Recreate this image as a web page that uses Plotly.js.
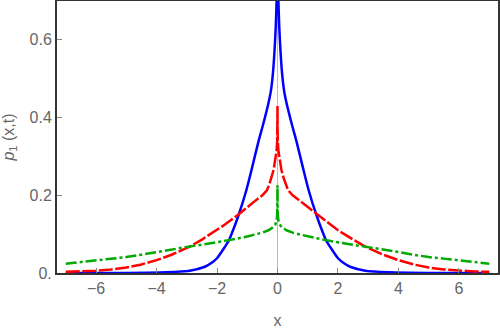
<!DOCTYPE html>
<html>
<head>
<meta charset="utf-8">
<script src="https://cdn.plot.ly/plotly-3.0.1.min.js"></script>
<style>
html, body { margin: 0; padding: 0; background: #fff; }
#myGraph { width: 500px; height: 329px; }
</style>
</head>
<body>
<div id="myGraph"></div>
<script>
// values
let blueX = [-7.0, -5.0, -3.7, -2.9, -2.4, -2.2, -2.0, -1.75, -1.6, -1.45, -1.3, -1.03, -0.85, -0.63, -0.5, -0.4, -0.3, -0.22, -0.15, -0.1, -0.06, -0.03, 0,
             0.03, 0.06, 0.1, 0.15, 0.22, 0.3, 0.4, 0.5, 0.63, 0.85, 1.03, 1.3, 1.45, 1.6, 1.75, 2.0, 2.2, 2.4, 2.9, 3.7, 5.0, 7.0];
let blueY = [0, 0.0003, 0.002, 0.006, 0.016, 0.025, 0.038, 0.066, 0.085, 0.114, 0.146, 0.213, 0.268, 0.338, 0.375, 0.405, 0.437, 0.468, 0.515, 0.57, 0.63, 0.70, 0.95,
             0.70, 0.63, 0.57, 0.515, 0.468, 0.437, 0.405, 0.375, 0.338, 0.268, 0.213, 0.146, 0.114, 0.085, 0.066, 0.038, 0.025, 0.016, 0.006, 0.002, 0.0003, 0];

let redX = [-7.0, -6.5, -6.0, -5.5, -5.0, -4.5, -4.0, -3.5, -2.9, -2.5, -2.0, -1.75, -1.3, -1.0, -0.75, -0.5, -0.35, -0.27, -0.2, -0.13, -0.08, -0.03, -0.01, -0.003, 0,
            0.003, 0.01, 0.03, 0.08, 0.13, 0.2, 0.27, 0.35, 0.5, 0.75, 1.0, 1.3, 1.75, 2.0, 2.5, 2.9, 3.5, 4.0, 4.5, 5.0, 5.5, 6.0, 6.5, 7.0];
let redY = [0.003, 0.004, 0.006, 0.009, 0.014, 0.022, 0.033, 0.047, 0.068, 0.086, 0.110, 0.124, 0.150, 0.170, 0.185, 0.200, 0.213, 0.228, 0.245, 0.265, 0.290, 0.315, 0.34, 0.37, 0.43,
            0.37, 0.34, 0.315, 0.290, 0.265, 0.245, 0.228, 0.213, 0.200, 0.185, 0.170, 0.150, 0.124, 0.110, 0.086, 0.068, 0.047, 0.033, 0.022, 0.014, 0.009, 0.006, 0.004, 0.003];

let greenX = [-7.0, -6.5, -6.0, -5.5, -5.0, -4.5, -4.0, -3.5, -3.0, -2.5, -2.0, -1.5, -1.0, -0.75, -0.5, -0.3, -0.14, -0.07, -0.03, -0.01, -0.003, 0,
              0.003, 0.01, 0.03, 0.07, 0.14, 0.3, 0.5, 0.75, 1.0, 1.5, 2.0, 2.5, 3.0, 3.5, 4.0, 4.5, 5.0, 5.5, 6.0, 6.5, 7.0];
let greenY = [0.024, 0.028, 0.033, 0.037, 0.041, 0.047, 0.054, 0.060, 0.067, 0.073, 0.079, 0.086, 0.094, 0.099, 0.104, 0.110, 0.118, 0.125, 0.135, 0.150, 0.175, 0.226,
              0.175, 0.150, 0.135, 0.125, 0.118, 0.110, 0.104, 0.099, 0.094, 0.086, 0.079, 0.073, 0.067, 0.060, 0.054, 0.047, 0.041, 0.037, 0.033, 0.028, 0.024];

let xTicks = [-6, -4, -2, 0, 2, 4, 6];
let xTickText = ['\u22126', '\u22124', '\u22122', '0', '2', '4', '6'];
let yTicks = [0, 0.2, 0.4, 0.6];
let yTickText = ['0.', '0.2', '0.4', '0.6'];

let myGraph = document.getElementById('myGraph');

let trace1 = {
    type: 'scatter',
    mode: 'lines',
    x: blueX,
    y: blueY,
    line: { color: '#0000ff', width: 2.5, shape: 'spline', smoothing: 0.6 },
    hoverinfo: 'skip'
};

let trace2 = {
    type: 'scatter',
    mode: 'lines',
    x: redX,
    y: redY,
    line: { color: '#ff0000', width: 2.5, dash: '14px,2.5px' },
    hoverinfo: 'skip'
};

let trace3 = {
    type: 'scatter',
    mode: 'lines',
    x: greenX,
    y: greenY,
    line: { color: '#00aa00', width: 2.5, dash: '11px,3px,3px,3px' },
    hoverinfo: 'skip'
};

let data = [];
data.push(trace1);
data.push(trace2);
data.push(trace3);

let layout = {
    width: 500,
    height: 329,
    margin: { l: 57, r: 2, t: 1, b: 56 },
    paper_bgcolor: '#fff',
    plot_bgcolor: '#fff',
    showlegend: false,
    font: { family: 'Liberation Sans, Arial, sans-serif', size: 16, color: '#666' },
    xaxis: {
        range: [-7.29, 7.29],
        tickvals: xTicks,
        ticktext: xTickText,
        ticks: 'inside',
        ticklen: 5,
        tickwidth: 1,
        tickcolor: '#888',
        showgrid: false,
        zeroline: true,
        zerolinecolor: '#bbb',
        zerolinewidth: 1,
        showline: true,
        linecolor: '#333',
        linewidth: 2,
        mirror: true,
        title: { text: 'x', font: { size: 16, color: '#666' } }
    },
    yaxis: {
        range: [0, 0.7],
        tickvals: yTicks,
        ticktext: yTickText,
        ticks: 'inside',
        ticklen: 5,
        tickwidth: 1,
        tickcolor: '#888',
        showgrid: false,
        zeroline: false,
        showline: true,
        linecolor: '#333',
        linewidth: 2,
        mirror: true,
        title: { text: '<i>p</i><sub>1</sub> (x,t)', font: { size: 16, color: '#666' } }
    }
};

Plotly.newPlot(myGraph, data, layout, { staticPlot: true, displayModeBar: false });
</script>
</body>
</html>
